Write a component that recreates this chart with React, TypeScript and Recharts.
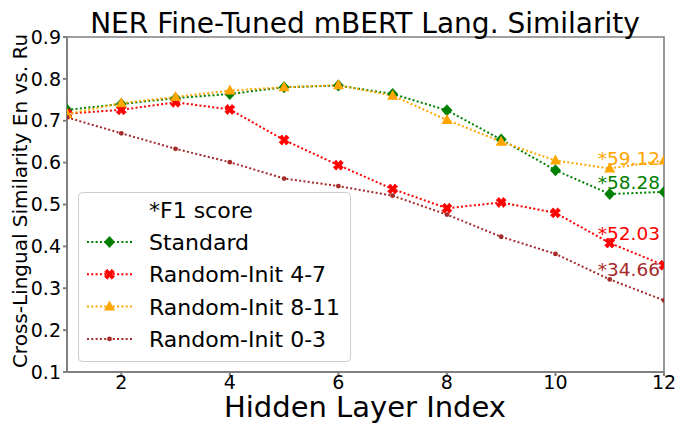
import React from 'react';
import { LineChart, Line, XAxis, YAxis, ReferenceArea, ReferenceDot } from 'recharts';

// hidden layer index on the x axis
const layers = [1, 2, 3, 4, 5, 6, 7, 8, 9, 10, 11, 12];

// similarity En vs. Ru per layer
const standard = [0.726, 0.740, 0.754, 0.764, 0.780, 0.784, 0.764, 0.725, 0.655, 0.582, 0.525, 0.530];
const randInit47 = [0.717, 0.726, 0.744, 0.727, 0.654, 0.594, 0.537, 0.491, 0.505, 0.480, 0.408, 0.355];
const randInit811 = [0.716, 0.742, 0.757, 0.772, 0.780, 0.785, 0.760, 0.702, 0.650, 0.605, 0.586, 0.605];
const randInit03 = [0.708, 0.670, 0.633, 0.601, 0.562, 0.544, 0.521, 0.476, 0.423, 0.382, 0.321, 0.271];

const xTicks = [2, 4, 6, 8, 10, 12];
const yTicks = [0.1, 0.2, 0.3, 0.4, 0.5, 0.6, 0.7, 0.8, 0.9];

// F1 score annotations near layer 11
const f1Labels = ['*59.12', '*58.28', '*52.03', '*34.66'];
const f1Y = [0.594, 0.537, 0.415, 0.329];
const f1Colors = ['orange', 'green', 'red', 'brown'];
const f1X = 10.78;

const data = layers.map((layer, i) => ({
  layer,
  standard: standard[i],
  randInit47: randInit47[i],
  randInit811: randInit811[i],
  randInit03: randInit03[i],
}));

const FONT = '"DejaVu Sans", sans-serif';
const DASH = '2 2.3';

const Diamond = ({ cx, cy, color }: any) => (
  <path d={`M${cx},${cy - 6} L${cx + 5.5},${cy} L${cx},${cy + 6} L${cx - 5.5},${cy} Z`} fill={color} />
);

// filled "X" marker, like matplotlib's 'X'
const XMark = ({ cx, cy, color }: any) => {
  const s = 5, t = 2.8;
  const d = `M${cx - s},${cy - s + t} L${cx - s + t},${cy - s} L${cx},${cy - t + 0.6} L${cx + s - t},${cy - s} L${cx + s},${cy - s + t} L${cx + t - 0.6},${cy} L${cx + s},${cy + s - t} L${cx + s - t},${cy + s} L${cx},${cy + t - 0.6} L${cx - s + t},${cy + s} L${cx - s},${cy + s - t} L${cx - t + 0.6},${cy} Z`;
  return <path d={d} fill={color} stroke={color} strokeWidth={0.8} strokeLinejoin="round" />;
};

const Triangle = ({ cx, cy, color }: any) => (
  <path d={`M${cx},${cy - 6} L${cx + 5.5},${cy + 4} L${cx - 5.5},${cy + 4} Z`} fill={color} />
);

const SmallDot = ({ cx, cy, color }: any) => <circle cx={cx} cy={cy} r={2.4} fill={color} />;

const series = [
  { key: 'standard', name: 'Standard', color: 'green', Marker: Diamond },
  { key: 'randInit47', name: 'Random-Init 4-7', color: 'red', Marker: XMark },
  { key: 'randInit811', name: 'Random-Init 8-11', color: 'orange', Marker: Triangle },
  { key: 'randInit03', name: 'Random-Init 0-3', color: 'brown', Marker: SmallDot },
];

const LegendBox = () => (
  <svg width={676} height={424} style={{ position: 'absolute', left: 0, top: 0, pointerEvents: 'none' }}>
    <text x={365} y={33} textAnchor="middle" fontSize={28} fontFamily={FONT} fill="#000">
      NER Fine-Tuned mBERT Lang. Similarity
    </text>
    <text x={365} y={417} textAnchor="middle" fontSize={29} fontFamily={FONT} fill="#000">
      Hidden Layer Index
    </text>
    <text
      x={0}
      y={0}
      transform="translate(27,201) rotate(-90)"
      textAnchor="middle"
      fontSize={20}
      fontFamily={FONT}
      fill="#000"
    >
      Cross-Lingual Similarity En vs. Ru
    </text>
    <rect x={78.5} y={192.5} width={272} height={169} rx={4} fill="rgba(255,255,255,0.8)" stroke="#cccccc" />
    <text x={149} y={218} fontSize={22} fontFamily={FONT} fill="#000">*F1 score</text>
    {series.map((s, i) => {
      const cy = 242 + i * 32.3;
      return (
        <g key={s.key}>
          <line x1={87} x2={132} y1={cy} y2={cy} stroke={s.color} strokeWidth={2} strokeDasharray={DASH} />
          <s.Marker cx={109.5} cy={cy} color={s.color} />
          <text x={149} y={cy + 8} fontSize={22} fontFamily={FONT} fill="#000">{s.name}</text>
        </g>
      );
    })}
  </svg>
);

export default function App() {
  return (
    <div style={{ position: 'absolute', left: 0, top: 0, width: 676, height: 424, background: '#fff' }}>
      <LineChart width={676} height={424} data={data} margin={{ top: 37, right: 12, left: 7, bottom: 7 }}>
        <XAxis
          dataKey="layer"
          type="number"
          domain={[1, 12]}
          ticks={xTicks}
          allowDataOverflow
          stroke="#808080"
          strokeWidth={2}
          tickSize={4}
          height={45}
          tick={{ fill: '#000', fontSize: 19, fontFamily: FONT, dy: -2 }}
        />
        <YAxis
          type="number"
          domain={[0.1, 0.9]}
          ticks={yTicks}
          allowDataOverflow
          stroke="#808080"
          strokeWidth={2}
          tickSize={4}
          width={60}
          tickFormatter={(v: number) => v.toFixed(1)}
          tick={{ fill: '#000', fontSize: 19, fontFamily: FONT }}
        />
        <ReferenceArea x1={1} x2={12} y1={0.1} y2={0.9} fill="none" stroke="#808080" strokeWidth={1.6} />
        {series.map((s) => (
          <Line
            key={s.key}
            dataKey={s.key}
            name={s.name}
            stroke={s.color}
            strokeWidth={2}
            strokeDasharray={DASH}
            isAnimationActive={false}
            type="linear"
            dot={(p: any) => <s.Marker key={`${s.key}-${p.index}`} cx={p.cx} cy={p.cy} color={s.color} />}
            activeDot={false}
          />
        ))}
        {f1Labels.map((label, i) => (
          <ReferenceDot
            key={label}
            x={f1X}
            y={f1Y[i]}
            r={0}
            shape={(p: any) => (
              <text x={p.cx} y={p.cy} fontSize={18.5} fontFamily={FONT} fill={f1Colors[i]}>
                {label}
              </text>
            )}
          />
        ))}
      </LineChart>
      <LegendBox />
    </div>
  );
}
